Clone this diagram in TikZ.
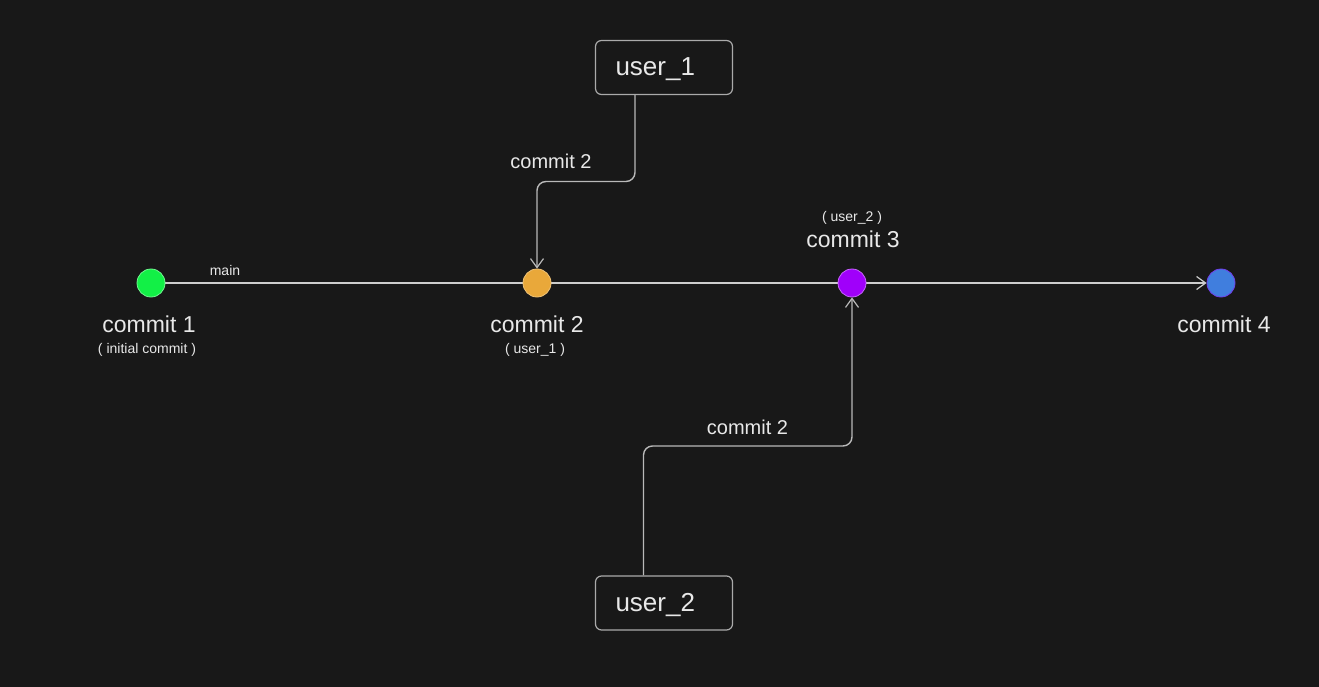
\documentclass[tikz,border=0pt]{standalone}
\usepackage{fontspec}
\setmainfont{Liberation Sans}
\usetikzlibrary{arrows.meta}
\pgfdeclarelayer{bg}
\pgfdeclarelayer{background}
\pgfsetlayers{bg,background,main}
\definecolor{bgc}{RGB}{24,24,24}
\definecolor{txt}{RGB}{232,232,232}
\definecolor{linec}{RGB}{205,205,205}
\definecolor{connc}{RGB}{185,185,185}
\definecolor{boxc}{RGB}{170,170,170}
\definecolor{cgreen}{RGB}{18,240,70}
\definecolor{corange}{RGB}{233,168,58}
\definecolor{cpurple}{RGB}{160,0,250}
\definecolor{cblue}{RGB}{64,126,222}
\tikzset{
  dot/.style={circle, minimum size=28pt, inner sep=0pt, line width=0.8pt},
  biglabel/.style={text=txt, font=\fontsize{23}{25}\selectfont, anchor=base, inner sep=0pt},
  smalllabel/.style={text=txt, font=\fontsize{14}{16}\selectfont, anchor=base, inner sep=0pt},
  connlabel/.style={text=txt, font=\fontsize{20}{22}\selectfont, anchor=base, inner sep=0pt},
  userbox/.style={draw=boxc, line width=1.2pt, rounded corners=6pt, text=txt,
    font=\fontsize{26}{28}\selectfont, minimum height=54pt, text width=97pt,
    text height=19pt, text depth=2pt,
    inner xsep=20pt, align=left, fill=bgc},
  conn/.style={draw=connc, line width=1.4pt, rounded corners=9pt,
    -{Straight Barb[length=9pt,width=13pt,line width=1.2pt]}},
  mainline/.style={draw=linec, line width=1.2pt,
    -{Straight Barb[length=9pt,width=13pt,line width=1.2pt]}},
}
\begin{document}
\begin{tikzpicture}[x=1pt,y=-1pt]
\begin{pgfonlayer}{bg}
\fill[bgc] (0,0) rectangle (1319,687);
\end{pgfonlayer}
\useasboundingbox (0,0) rectangle (1319,687);

% commits
\node[dot, fill=cgreen, draw=cgreen!60!white] (c1) at (151,283) {};
\node[dot, fill=corange, draw=corange!70!white] (c2) at (537,283) {};
\node[dot, fill=cpurple, draw=cpurple!60!white] (c3) at (852,283) {};
\node[dot, fill=cblue, draw=cpurple!50!cblue] (c4) at (1221,283) {};

% users
\node[userbox] (u1) at (664,67.5) {user\_1};
\node[userbox] (u2) at (664,603) {user\_2};

% labels
\node[smalllabel] (lmain) at (225,275.5) {main};
\node[biglabel] (l1) at (149,332) {commit 1};
\node[smalllabel] (l1b) at (147,353.5) {( initial commit )};
\node[biglabel] (l2) at (537,332) {commit 2};
\node[smalllabel] (l2b) at (535,353.5) {( user\_1 )};
\node[smalllabel] (l3b) at (852,221) {( user\_2 )};
\node[biglabel] (l3) at (853,247) {commit 3};
\node[biglabel] (l4) at (1224,332) {commit 4};
\node[connlabel] (lc1) at (551,169) {commit 2};
\node[connlabel] (lc2) at (747.5,434) {commit 2};

\coordinate (k1) at (537,181.5);
\coordinate (k2) at (852,446);

\begin{pgfonlayer}{background}
\draw[mainline] (c1.east) -- (c4.west);
\draw[conn] ([xshift=-29pt]u1.south) |- (k1) -- (c2.north);
\draw[conn] ([xshift=-20.5pt]u2.north) |- (k2) -- (c3.south);
\end{pgfonlayer}
\end{tikzpicture}
\end{document}
